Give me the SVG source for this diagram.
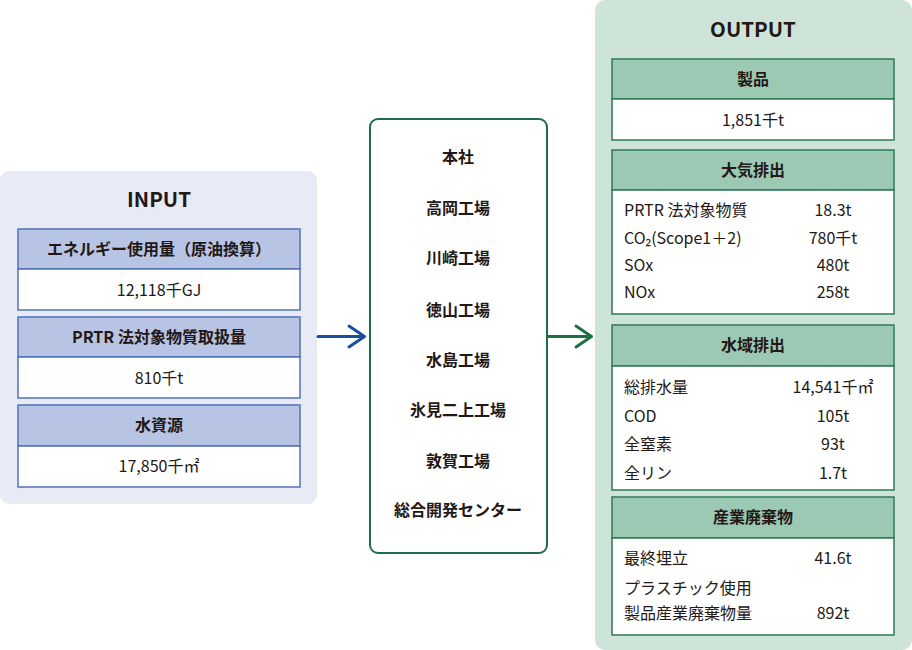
<svg xmlns="http://www.w3.org/2000/svg" width="912" height="650" viewBox="0 0 912 650">
<style>
text{font-family:"Noto Sans CJK JP","Noto Sans",sans-serif;fill:#231815;}
.title{font-size:20.5px;font-weight:bold;text-anchor:middle;}
.hd{font-size:16px;font-weight:bold;text-anchor:middle;}
.val{font-size:16px;text-anchor:middle;}
.lbl{font-size:16px;}
.site{font-size:16px;font-weight:bold;text-anchor:middle;}
.ih{fill:#b8c4e4;stroke:#4f72b8;stroke-width:1.5;}
.ib{fill:#ffffff;stroke:#4f72b8;stroke-width:1.5;}
.oh{fill:#9bc9b3;stroke:#2f7a58;stroke-width:1.5;}
.ob{fill:#ffffff;stroke:#2f7a58;stroke-width:1.5;}
</style>
<g id="input">
<rect x="0" y="171" width="317" height="333" rx="9" fill="#e8eaf6"/>
<text class="title" x="159" y="206.5">INPUT</text>
<rect class="ih" x="18" y="229" width="282" height="40"/>
<text class="hd" x="159" y="254.5">エネルギー使用量（原油換算）</text>
<rect class="ib" x="18" y="269" width="282" height="41"/>
<text class="val" x="159" y="295.5">12,118千GJ</text>
<rect class="ih" x="18" y="317" width="282" height="40"/>
<text class="hd" x="159" y="342.5">PRTR 法対象物質取扱量</text>
<rect class="ib" x="18" y="357" width="282" height="41"/>
<text class="val" x="159" y="383.5">810千t</text>
<rect class="ih" x="18" y="405" width="282" height="41"/>
<text class="hd" x="159" y="431">水資源</text>
<rect class="ib" x="18" y="446" width="282" height="41"/>
<text class="val" x="159" y="472">17,850千㎡</text>
</g>
<g id="sites">
<rect x="370" y="119" width="177" height="434" rx="8" fill="#ffffff" stroke="#1e6e46" stroke-width="2"/>
<text class="site" x="458" y="162.5">本社</text>
<text class="site" x="458" y="213.5">高岡工場</text>
<text class="site" x="458" y="263.5">川崎工場</text>
<text class="site" x="458" y="315.5">徳山工場</text>
<text class="site" x="458" y="365.5">水島工場</text>
<text class="site" x="458" y="415.5">氷見二上工場</text>
<text class="site" x="458" y="466.5">敦賀工場</text>
<text class="site" x="458" y="515.5">総合開発センター</text>
</g>
<g id="output">
<rect x="595" y="0" width="317" height="650" rx="10" fill="#cfe4d9"/>
<text class="title" x="753" y="36.5">OUTPUT</text>
<rect class="oh" x="612" y="59" width="282" height="40"/>
<text class="hd" x="753" y="84.5">製品</text>
<rect class="ob" x="612" y="99" width="282" height="41"/>
<text class="val" x="753" y="125.5">1,851千t</text>
<rect class="oh" x="612" y="150" width="282" height="40"/>
<text class="hd" x="753" y="175.5">大気排出</text>
<rect class="ob" x="612" y="190" width="282" height="124"/>
<text class="lbl" x="624" y="215.5">PRTR 法対象物質</text>
<text class="val" x="833" y="215.5">18.3t</text>
<text class="lbl" x="624" y="243.5">CO₂(Scope1＋2)</text>
<text class="val" x="833" y="243.5">780千t</text>
<text class="lbl" x="624" y="271">SOx</text>
<text class="val" x="833" y="271">480t</text>
<text class="lbl" x="624" y="297.5">NOx</text>
<text class="val" x="833" y="297.5">258t</text>
<rect class="oh" x="612" y="325" width="282" height="41"/>
<text class="hd" x="753" y="351">水域排出</text>
<rect class="ob" x="612" y="366" width="282" height="124"/>
<text class="lbl" x="624" y="392.5">総排水量</text>
<text class="val" x="833" y="392.5">14,541千㎡</text>
<text class="lbl" x="624" y="421.5">COD</text>
<text class="val" x="833" y="421.5">105t</text>
<text class="lbl" x="624" y="449.5">全窒素</text>
<text class="val" x="833" y="449.5">93t</text>
<text class="lbl" x="624" y="478.5">全リン</text>
<text class="val" x="833" y="478.5">1.7t</text>
<rect class="oh" x="612" y="497" width="282" height="41"/>
<text class="hd" x="753" y="523">産業廃棄物</text>
<rect class="ob" x="612" y="538" width="282" height="97"/>
<text class="lbl" x="624" y="563.5">最終埋立</text>
<text class="val" x="833" y="563.5">41.6t</text>
<text class="lbl" x="624" y="593.5">プラスチック使用</text>
<text class="lbl" x="624" y="618.5">製品産業廃棄物量</text>
<text class="val" x="833" y="618.5">892t</text>
</g>
<g id="connectors" fill="none" stroke-width="3" stroke-linecap="round" stroke-linejoin="round">
<path d="M318 336.5 H364" stroke="#1a4fa0"/>
<path d="M349 326 L364.5 336.5 L349 347" stroke="#1a4fa0"/>
<path d="M548 336.5 H591" stroke="#1e6e46"/>
<path d="M576 326 L591.5 336.5 L576 347" stroke="#1e6e46"/>
</g>
</svg>
